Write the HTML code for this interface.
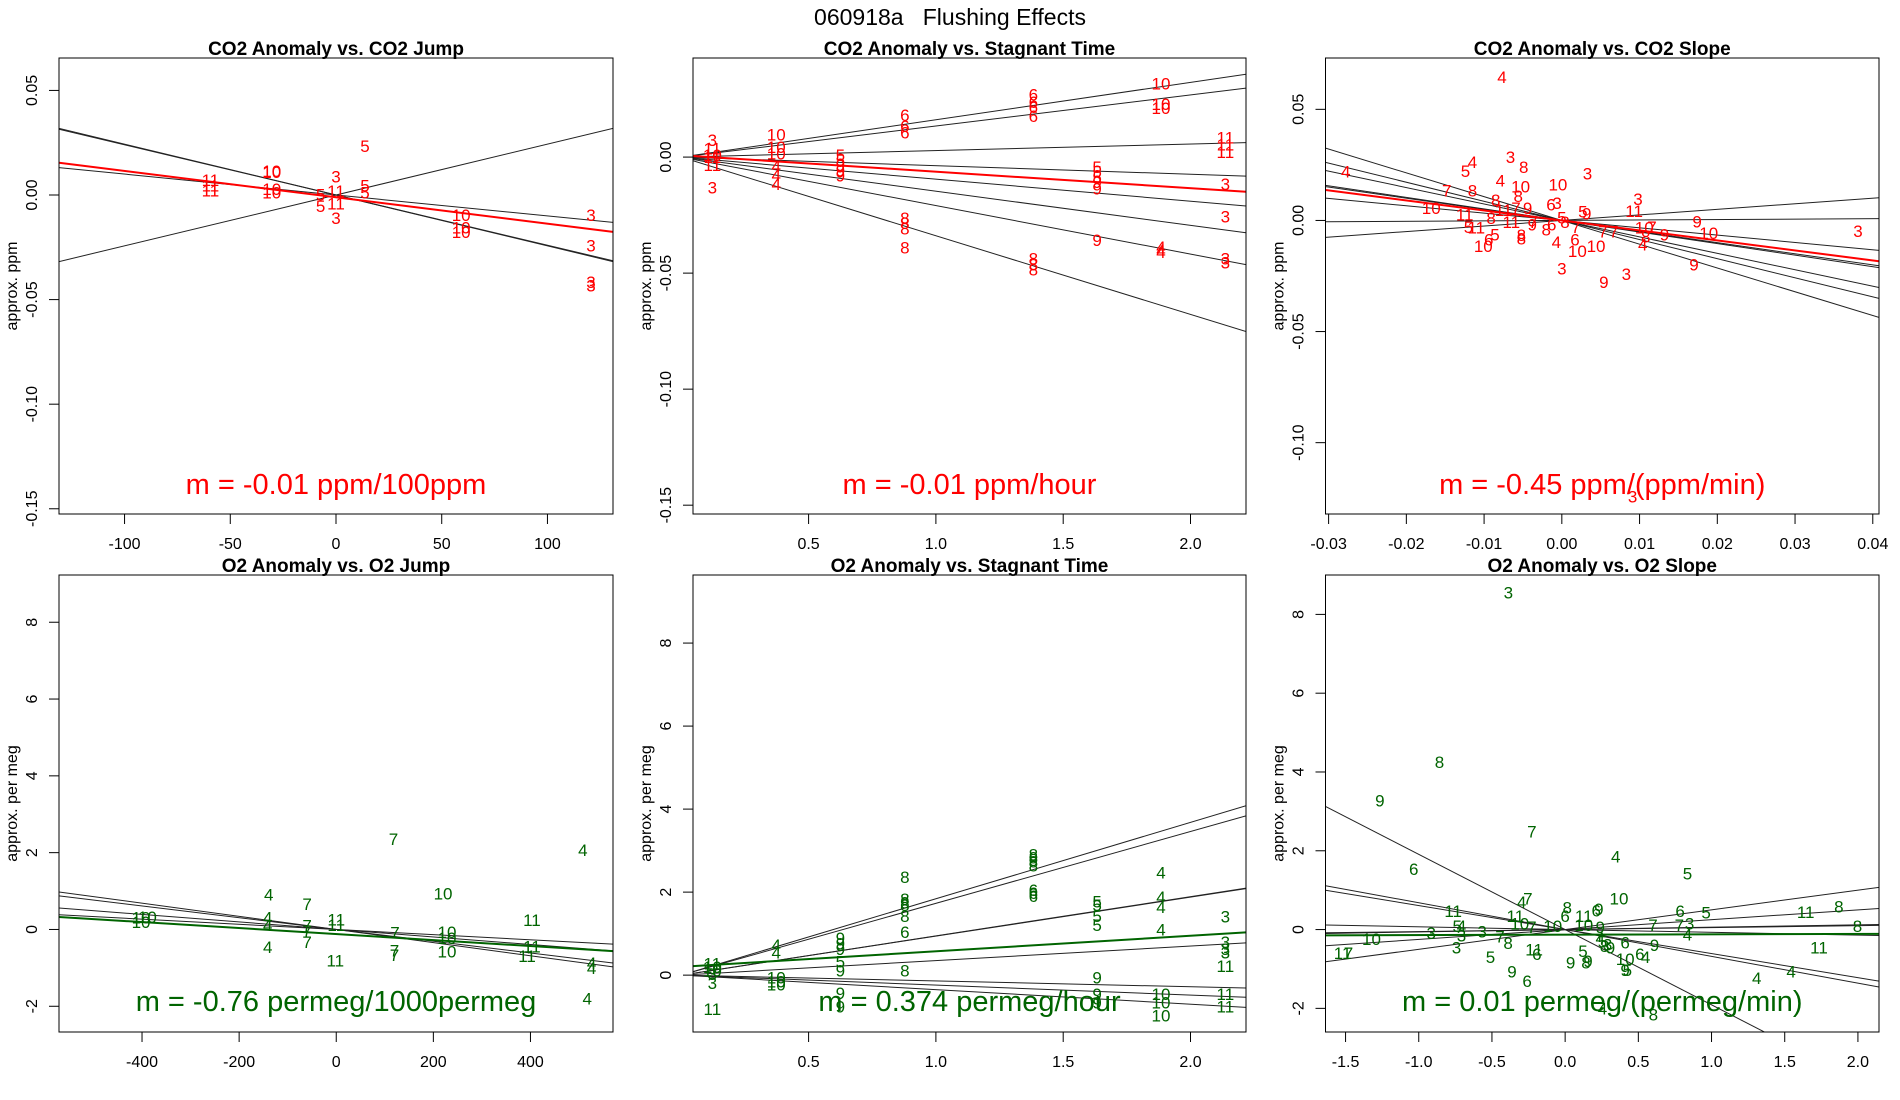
<!DOCTYPE html>
<html><head><meta charset="utf-8"><title>060918a Flushing Effects</title>
<style>
html,body{margin:0;padding:0;background:#fff;}
svg{display:block;font-family:"Liberation Sans",Arial,sans-serif;}
</style></head>
<body>
<svg id="chart" width="1900" height="1100" viewBox="0 0 1900 1100" xmlns="http://www.w3.org/2000/svg">
<rect x="0" y="0" width="1900" height="1100" fill="#fff"/>
<text x="950" y="25" font-size="23" text-anchor="middle" xml:space="preserve">060918a   Flushing Effects</text>
</svg>
<script>
// ---------- Panel 1: CO2 Anomaly vs. CO2 Jump ----------
const p1X = [13.7,-30.4,-30.4,-59.4,-59.4,-59.4,-30.4,-30.4,0,-7.3,-7.3,0,0,13.7,13.7,0,59.2,59.2,59.2,120.6,120.6,120.6,120.6];
const p1Y = [0.0234,0.0115,0.0110,0.0072,0.0046,0.0021,0.0029,0.0012,0.0089,0.0003,-0.0053,0.0020,-0.0040,0.0046,0.0012,-0.0111,-0.0096,-0.0156,-0.0176,-0.0096,-0.0241,-0.0415,-0.0432];
const p1Lab = ["5","10","10","11","11","11","10","10","3","5","5","11","11","5","5","3","10","10","10","3","3","3","3"];
const p1Slopes = [-0.000243,-0.000240,0.000243,-0.000100];
const p1Fit = [-0.000126,-0.0011];
const p1XTicks = [-100,-50,0,50,100];
const p1XTickLabels = ["-100","-50","0","50","100"];
const p1YTicks = [0.05,0,-0.05,-0.10,-0.15];
const p1YTickLabels = ["0.05","0.00","-0.05","-0.10","-0.15"];

// ---------- Panel 2: CO2 Anomaly vs. Stagnant Time ----------
const p2X = [0.122,0.122,0.122,0.122,0.122,0.122, 0.373,0.373,0.373,0.373,0.373,0.373, 0.625,0.625,0.625,0.625,0.625, 0.878,0.878,0.878,0.878,0.878,0.878,0.878, 1.383,1.383,1.383,1.383,1.383,1.383,1.383, 1.633,1.633,1.633,1.633,1.633,1.633, 1.884,1.884,1.884,1.884,1.884,1.884, 2.137,2.137,2.137,2.137,2.137,2.137,2.137];
const p2Y = [0.0074,0.0038,0.0008,0.0001,-0.0034,-0.0131, 0.0097,0.0043,0.0015,-0.0038,-0.0077,-0.0115, 0.0008,-0.0012,-0.0034,-0.0058,-0.0080, 0.0182,0.0135,0.0105,-0.0262,-0.0285,-0.0308,-0.0389, 0.0269,0.0238,0.0215,0.0177,-0.0438,-0.0462,-0.0485, -0.0042,-0.0062,-0.0085,-0.0108,-0.0135,-0.0357, 0.0318,0.0228,0.0212,-0.0388,-0.0400,-0.0408, 0.0085,0.0054,0.0023,-0.0115,-0.0257,-0.0438,-0.0454];
const p2Lab = ["3","11","10","11","11","3", "10","10","10","4","4","4", "5","5","9","9","9", "6","6","6","8","8","8","8", "6","6","6","6","8","8","8", "5","5","5","9","9","9", "10","10","10","4","4","4", "11","11","11","3","3","3","3"];
const p2Slopes = [0.0161,0.0134,0.0028,-0.0037,-0.0095,-0.0147,-0.0209,-0.0339];
const p2Fit = [-0.0071,0.0008];
const p2XTicks = [0.5,1.0,1.5,2.0];
const p2XTickLabels = ["0.5","1.0","1.5","2.0"];
const p2YTicks = [0,-0.05,-0.10,-0.15];
const p2YTickLabels = ["0.00","-0.05","-0.10","-0.15"];

// ---------- Panel 3: CO2 Anomaly vs. CO2 Slope ----------
const p3X = [-0.0077,-0.0115,-0.0124,-0.0278,-0.0066,-0.0049,0.0033,-0.0079,-0.0148,-0.0115,-0.0053,-0.0005,0.0098,-0.0085,-0.0056,-0.0168,-0.0125,-0.0091,-0.0075,-0.0059,-0.0044,-0.0014,-0.0006,0.0027,0.0032,0.0093,-0.0065,-0.0110,-0.0120,-0.0086,-0.0094,-0.0052,-0.0052,-0.0038,-0.0037,-0.0020,-0.0013,0.0000,0.0004,0.0018,-0.0007,0.0017,0.0020,0.0044,0.0053,0.0067,0.0106,0.0116,0.0108,0.0104,0.0132,0.0174,0.0189,0.0170,0.0000,0.0054,0.0083,0.0381,0.0091,-0.0101];
const p3Y = [0.0646,0.0264,0.0223,0.0220,0.0285,0.0240,0.0212,0.0180,0.0135,0.0135,0.0153,0.0162,0.0096,0.0092,0.0111,0.0055,0.0026,0.0011,0.0047,0.0056,0.0056,0.0072,0.0079,0.0040,0.0031,0.0043,-0.0008,-0.0032,-0.0029,-0.0064,-0.0085,-0.0066,-0.0082,-0.0018,-0.0008,-0.0040,-0.0018,0.0014,-0.0008,-0.0029,-0.0098,-0.0085,-0.0137,-0.0114,-0.0050,-0.0050,-0.0031,-0.0029,-0.0072,-0.0109,-0.0064,-0.0005,-0.0056,-0.0198,-0.0217,-0.0278,-0.0240,-0.0048,-0.1243,-0.0114];
const p3Lab = ["4","4","5","4","3","8","3","4","7","8","10","10","3","8","8","10","11","8","11","7","9","6","3","5","9","11","11","11","5","5","6","8","8","9","7","8","6","5","8","7","4","6","10","10","7","7","10","7","8","4","9","9","10","9","3","9","3","3","3","10"];
const p3Slopes = [-1.07,-0.86,-0.74,-0.52,-0.50,-0.33,0.02,0.25];
const p3Fit = [-0.45,0.0];
const p3XTicks = [-0.03,-0.02,-0.01,0,0.01,0.02,0.03,0.04];
const p3XTickLabels = ["-0.03","-0.02","-0.01","0.00","0.01","0.02","0.03","0.04"];
const p3YTicks = [0.05,0,-0.05,-0.10];
const p3YTickLabels = ["0.05","0.00","-0.05","-0.10"];

// ---------- Panel 4: O2 Anomaly vs. O2 Jump ----------
const p4X = [508,118,220,-139,-60,403,-402,-402,-389,-141,-141,-60,-60,-60,0,0,121,228,228,228,-141,120,120,-2,403,393,526,526,517];
const p4Y = [2.07,2.35,0.94,0.91,0.66,0.24,0.31,0.20,0.33,0.31,0.12,0.10,-0.04,-0.32,0.26,0.12,-0.08,-0.07,-0.22,-0.57,-0.46,-0.55,-0.66,-0.81,-0.44,-0.69,-0.87,-1.00,-1.80];
const p4Lab = ["4","7","10","4","7","11","10","10","10","4","4","7","7","7","11","11","7","10","10","10","4","7","7","11","11","11","4","4","4"];
const p4Slopes = [-0.00171,-0.00153,-0.00098,-0.00067];
const p4Fit = [-0.00078,-0.12];
const p4XTicks = [-400,-200,0,200,400];
const p4XTickLabels = ["-400","-200","0","200","400"];
const p4YTicks = [-2,0,2,4,6,8];
const p4YTickLabels = ["-2","0","2","4","6","8"];

// ---------- Panel 5: O2 Anomaly vs. Stagnant Time ----------
const p5X = [0.122,0.122,0.122,0.122,0.122,0.122, 0.373,0.373,0.373,0.373,0.373, 0.625,0.625,0.625,0.625,0.625,0.625,0.625, 0.878,0.878,0.878,0.878,0.878,0.878,0.878, 1.383,1.383,1.383,1.383,1.383,1.383,1.383, 1.633,1.633,1.633,1.633,1.633,1.633,1.633, 1.884,1.884,1.884,1.884,1.884,1.884,1.884, 2.137,2.137,2.137,2.137,2.137,2.137,2.137];
const p5Y = [0.28,0.20,0.11,0.03,-0.19,-0.81, 0.72,0.54,-0.06,-0.15,-0.23, 0.89,0.76,0.63,0.33,0.11,-0.43,-0.75, 2.37,1.84,1.75,1.69,1.43,1.04,0.11, 2.91,2.83,2.74,2.64,2.05,1.98,1.91, 1.78,1.69,1.43,1.21,-0.06,-0.45,-0.66, 2.47,1.88,1.64,1.10,-0.45,-0.66,-0.97, 1.41,0.80,0.63,0.54,0.22,-0.45,-0.75];
const p5Lab = ["11","10","10","3","3","11", "4","4","10","10","10", "9","9","9","5","9","9","9", "8","8","8","8","8","6","8", "8","8","8","8","6","6","6", "5","5","5","5","9","9","9", "4","4","4","4","10","10","10", "3","3","3","3","11","11","11"];
const p5Slopes = [1.84,1.73,0.94,0.945,0.35,-0.14,-0.24,-0.35];
const p5Fit = [0.374,0.2];
const p5XTicks = [0.5,1.0,1.5,2.0];
const p5XTickLabels = ["0.5","1.0","1.5","2.0"];
const p5YTicks = [0,2,4,6,8];
const p5YTickLabels = ["0","2","4","6","8"];

// ---------- Panel 6: O2 Anomaly vs. O2 Slope ----------
const p6X = [-0.388,-0.858,-1.266,-0.227,0.346,0.836,-1.034,-0.297,-0.255,0.368,0.014,0.212,0.230,0.000,0.127,-0.765,-0.340,-0.310,-0.227,-0.085,0.127,0.240,-0.737,-0.708,-0.915,-0.708,-0.567,-1.323,-1.520,-1.480,-0.445,-0.390,-0.742,-0.510,-0.212,-0.193,-0.363,-0.260,0.037,0.122,0.142,0.156,0.240,0.255,0.270,0.290,0.310,0.410,0.510,0.550,0.410,0.410,0.425,0.610,0.600,0.780,0.850,0.836,0.785,0.963,1.643,1.870,1.997,1.734,1.544,1.309,0.255,0.603];
const p6Y = [8.56,4.25,3.28,2.49,1.85,1.42,1.54,0.70,0.79,0.79,0.56,0.49,0.52,0.34,0.34,0.47,0.34,0.15,0.06,0.09,0.11,0.06,0.09,0.09,-0.09,-0.15,-0.05,-0.24,-0.60,-0.60,-0.18,-0.34,-0.46,-0.69,-0.51,-0.62,-1.07,-1.30,-0.83,-0.54,-0.84,-0.80,-0.21,-0.30,-0.42,-0.38,-0.45,-0.33,-0.62,-0.69,-0.75,-1.02,-1.02,-0.39,0.11,0.11,0.15,-0.12,0.47,0.43,0.45,0.58,0.09,-0.46,-1.07,-1.23,-2.00,-2.16];
const p6Lab = ["3","8","9","7","4","5","6","4","7","10","8","6","9","6","11","11","11","10","7","10","10","9","5","4","3","3","3","10","11","7","7","8","3","5","11","6","9","6","9","5","8","9","4","5","8","3","9","6","6","4","10","9","5","9","7","7","3","4","6","5","11","8","8","11","4","4","4","8"];
const p6Slopes = [-1.91,-0.68,-0.61,-0.07,0.06,0.05,0.25,0.50];
const p6Fit = [0.01,-0.13];
const p6XTicks = [-1.5,-1.0,-0.5,0,0.5,1.0,1.5,2.0];
const p6XTickLabels = ["-1.5","-1.0","-0.5","0.0","0.5","1.0","1.5","2.0"];
const p6YTicks = [-2,0,2,4,6,8];
const p6YTickLabels = ["-2","0","2","4","6","8"];

const NS = "http://www.w3.org/2000/svg";
const svg = document.getElementById("chart");
const RED = "#ff0000", GREEN = "#006400";

function mk(tag, attrs, parent) {
  const e = document.createElementNS(NS, tag);
  for (const k in attrs) e.setAttribute(k, attrs[k]);
  (parent || svg).appendChild(e);
  return e;
}

function panel(cfg) {
  const g = mk("g", {});
  
  
  const L = cfg.box[0], R = cfg.box[1], T = cfg.box[2], B = cfg.box[3];
  const sx = v => L + (v - cfg.xlim[0]) / (cfg.xlim[1] - cfg.xlim[0]) * (R - L);
  const sy = v => B - (v - cfg.ylim[0]) / (cfg.ylim[1] - cfg.ylim[0]) * (B - T);
  const cid = "clip-" + cfg.name;
  const cp = mk("clipPath", {id: cid}, g);
  mk("rect", {x: L, y: T, width: R - L, height: B - T}, cp);

  const t = mk("text", {x: (L + R) / 2, y: T - 3, "font-size": 19, "font-weight": "bold", "text-anchor": "middle"}, g);
  t.textContent = cfg.title;
  
  

  const yl = mk("text", {x: 0, y: 0, "font-size": 16, "text-anchor": "middle", transform: `translate(${L - 42},${(T + B) / 2}) rotate(-90)`}, g);
  yl.textContent = cfg.ylab;
  
  

  const xa = mk("g", {}, g);
  
  
  const xt0 = sx(cfg.xticks[0]), xt1 = sx(cfg.xticks[cfg.xticks.length - 1]);
  mk("line", {x1: xt0, x2: xt1, y1: B, y2: B, stroke: "#000", "stroke-width": 1}, xa);
  cfg.xticks.forEach((v, i) => {
    const x = sx(v);
    mk("line", {x1: x, x2: x, y1: B, y2: B + 10, stroke: "#000", "stroke-width": 1}, xa);
    const tl = mk("text", {x: x, y: B + 35, "font-size": 16, "text-anchor": "middle"}, xa);
    tl.textContent = cfg.xlabels[i];
    
    
  });
  const ya = mk("g", {}, g);
  
  
  const yv = cfg.yticks.map(sy);
  mk("line", {x1: L, x2: L, y1: Math.min(...yv), y2: Math.max(...yv), stroke: "#000", "stroke-width": 1}, ya);
  cfg.yticks.forEach((v, i) => {
    const y = sy(v);
    mk("line", {x1: L, x2: L - 10, y1: y, y2: y, stroke: "#000", "stroke-width": 1}, ya);
    const tl = mk("text", {x: 0, y: 0, "font-size": 16, "text-anchor": "middle", transform: `translate(${L - 22},${y}) rotate(-90)`}, ya);
    tl.textContent = cfg.ylabels[i];
    
    
  });

  const lg = mk("g", {"clip-path": `url(#${cid})`}, g);
  cfg.slopes.forEach(b => {
    const ln = mk("line", {x1: sx(cfg.xlim[0]), y1: sy(b * cfg.xlim[0]), x2: sx(cfg.xlim[1]), y2: sy(b * cfg.xlim[1]), stroke: "#222", "stroke-width": 1}, lg);
    
    
  });
  const fb = cfg.fit[0], fa = cfg.fit[1];
  const fl = mk("line", {x1: sx(cfg.xlim[0]), y1: sy(fa + fb * cfg.xlim[0]), x2: sx(cfg.xlim[1]), y2: sy(fa + fb * cfg.xlim[1]), stroke: cfg.color, "stroke-width": 2}, lg);
  
  

  const pg = mk("g", {"clip-path": `url(#${cid})`}, g);
  cfg.px.forEach((xv, i) => {
    const p = mk("text", {x: sx(xv), y: sy(cfg.py[i]) + 6, "font-size": 17, fill: cfg.color, "text-anchor": "middle"}, pg);
    p.textContent = cfg.plab[i];
    
    
  });

  const st = mk("text", {x: (L + R) / 2, y: cfg.slopeY, "font-size": 29, fill: cfg.color, "text-anchor": "middle"}, g);
  st.textContent = cfg.slopeText;
  
  

  const bx = mk("rect", {x: L, y: T, width: R - L, height: B - T, fill: "none", stroke: "#000", "stroke-width": 1}, g);
  
  
}

const TOP = [58, 514], BOT = [575, 1032];
const C1 = [59, 613], C2 = [693, 1246], C3 = [1325.5, 1879];

panel({name: "co2-vs-co2-jump", title: "CO2 Anomaly vs. CO2 Jump", ylab: "approx. ppm",
  box: [C1[0], C1[1], TOP[0], TOP[1]], xlim: [-131, 131], ylim: [-0.1525, 0.0655],
  xticks: p1XTicks, xlabels: p1XTickLabels, yticks: p1YTicks, ylabels: p1YTickLabels,
  slopes: p1Slopes, fit: p1Fit, px: p1X, py: p1Y, plab: p1Lab, color: RED,
  slopeText: "m = -0.01 ppm/100ppm", slopeY: 494});
panel({name: "co2-vs-stagnant-time", title: "CO2 Anomaly vs. Stagnant Time", ylab: "approx. ppm",
  box: [C2[0], C2[1], TOP[0], TOP[1]], xlim: [0.046, 2.218], ylim: [-0.1538, 0.0427],
  xticks: p2XTicks, xlabels: p2XTickLabels, yticks: p2YTicks, ylabels: p2YTickLabels,
  slopes: p2Slopes, fit: p2Fit, px: p2X, py: p2Y, plab: p2Lab, color: RED,
  slopeText: "m = -0.01 ppm/hour", slopeY: 494});
panel({name: "co2-vs-co2-slope", title: "CO2 Anomaly vs. CO2 Slope", ylab: "approx. ppm",
  box: [C3[0], C3[1], TOP[0], TOP[1]], xlim: [-0.0304, 0.0408], ylim: [-0.1321, 0.0731],
  xticks: p3XTicks, xlabels: p3XTickLabels, yticks: p3YTicks, ylabels: p3YTickLabels,
  slopes: p3Slopes, fit: p3Fit, px: p3X, py: p3Y, plab: p3Lab, color: RED,
  slopeText: "m = -0.45 ppm/(ppm/min)", slopeY: 494});
panel({name: "o2-vs-o2-jump", title: "O2 Anomaly vs. O2 Jump", ylab: "approx. per meg",
  box: [C1[0], C1[1], BOT[0], BOT[1]], xlim: [-571, 570], ylim: [-2.67, 9.23],
  xticks: p4XTicks, xlabels: p4XTickLabels, yticks: p4YTicks, ylabels: p4YTickLabels,
  slopes: p4Slopes, fit: p4Fit, px: p4X, py: p4Y, plab: p4Lab, color: GREEN,
  slopeText: "m = -0.76 permeg/1000permeg", slopeY: 1011});
panel({name: "o2-vs-stagnant-time", title: "O2 Anomaly vs. Stagnant Time", ylab: "approx. per meg",
  box: [C2[0], C2[1], BOT[0], BOT[1]], xlim: [0.046, 2.218], ylim: [-1.37, 9.64],
  xticks: p5XTicks, xlabels: p5XTickLabels, yticks: p5YTicks, ylabels: p5YTickLabels,
  slopes: p5Slopes, fit: p5Fit, px: p5X, py: p5Y, plab: p5Lab, color: GREEN,
  slopeText: "m = 0.374 permeg/hour", slopeY: 1011});
panel({name: "o2-vs-o2-slope", title: "O2 Anomaly vs. O2 Slope", ylab: "approx. per meg",
  box: [C3[0], C3[1], BOT[0], BOT[1]], xlim: [-1.637, 2.144], ylim: [-2.6, 9.0],
  xticks: p6XTicks, xlabels: p6XTickLabels, yticks: p6YTicks, ylabels: p6YTickLabels,
  slopes: p6Slopes, fit: p6Fit, px: p6X, py: p6Y, plab: p6Lab, color: GREEN,
  slopeText: "m = 0.01 permeg/(permeg/min)", slopeY: 1011});
</script>
</body></html>
